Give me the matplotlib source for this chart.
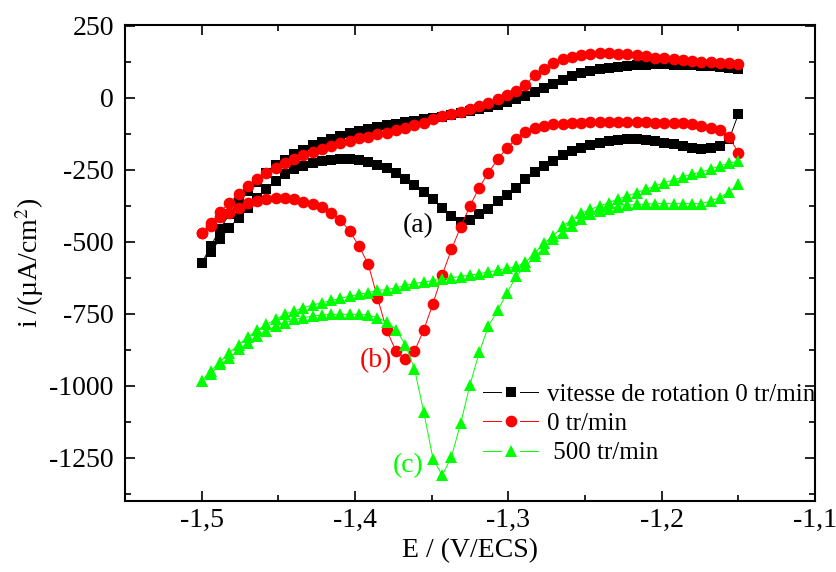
import numpy as np
import matplotlib
matplotlib.use("Agg")
import matplotlib.pyplot as plt
from matplotlib.ticker import MultipleLocator, FuncFormatter
from matplotlib.legend_handler import HandlerLine2D
from matplotlib.lines import Line2D

plt.rcParams['font.family'] = ['Liberation Serif', 'DejaVu Serif']
plt.rcParams['mathtext.fontset'] = 'stix'
plt.rcParams['axes.unicode_minus'] = False

# potential sweep grid (V/ECS), same for every branch
E = np.linspace(-1.5, -1.15, 59)

# black: vitesse de rotation 0 tr/min
black_fwd = [-575, -515, -455, -405, -362, -325, -292, -262, -235, -215,
             -197, -182, -166, -154, -142, -133, -124, -116, -110, -102,
             -96, -90, -85, -81, -75, -72, -68, -60, -54, -47,
             -41, -33, -25, -16, -6, 6, 18, 32, 48, 62,
             75, 84, 92, 98, 103, 107, 110, 112, 114, 115,
             115, 114, 113, 112, 110, 108, 106, 104, 101]
black_back = [-575, -535, -490, -451, -417, -383, -350, -318, -288, -265,
              -248, -236, -227, -221, -216, -214, -214, -218, -224, -233,
              -245, -262, -282, -303, -326, -353, -382, -410, -432, -425,
              -405, -385, -359, -339, -313, -284, -258, -237, -220, -200,
              -185, -174, -165, -156, -151, -148, -145, -145, -147, -151,
              -156, -162, -168, -174, -177, -176, -168, -145, -58]

# red: 0 tr/min
red_fwd = [-471, -436, -397, -365, -333, -307, -284, -263, -243, -228,
           -214, -200, -188, -177, -168, -159, -151, -141, -135, -128,
           -122, -112, -104, -96, -87, -75, -65, -58, -50, -40,
           -29, -19, -6, 8, 23, 45, 77, 101, 119, 133,
           142, 148, 153, 154, 154, 153, 150, 147, 145, 139,
           136, 133, 129, 127, 125, 124, 121, 119, 116]
red_back = [-471, -445, -415, -399, -382, -367, -359, -353, -350, -350,
            -353, -361, -368, -380, -399, -425, -463, -515, -578, -694,
            -807, -880, -906, -880, -807, -715, -615, -527, -448, -376,
            -312, -260, -214, -174, -142, -120, -105, -97, -93, -90,
            -88, -87, -86, -86, -85, -85, -85, -86, -86, -87,
            -87, -87, -89, -93, -99, -104, -112, -135, -193]

# green: 500 tr/min
green_fwd = [-984, -949, -917, -885, -857, -831, -808, -787, -770, -752,
             -741, -729, -720, -712, -704, -697, -689, -683, -677, -669,
             -666, -660, -652, -645, -640, -635, -630, -625, -621, -616,
             -611, -605, -599, -593, -586, -572, -540, -505, -480, -447,
             -424, -402, -388, -376, -365, -352, -342, -330, -318, -307,
             -295, -286, -275, -266, -258, -249, -237, -228, -220]
green_back = [-984, -958, -926, -905, -874, -851, -828, -810, -793, -781,
              -770, -764, -758, -755, -752, -752, -752, -752, -755, -764,
              -778, -805, -857, -941, -1090, -1253, -1311, -1246, -1130, -997,
              -884, -793, -738, -678, -620, -585, -550, -524, -492, -469,
              -446, -423, -405, -394, -385, -378, -374, -370, -370, -368,
              -368, -368, -368, -368, -368, -359, -347, -328, -301]

labels = ['vitesse de rotation 0 tr/min', '0 tr/min', ' 500 tr/min']


# Origin-like legend handle: line - marker - line with gaps
class GapHandler(HandlerLine2D):
    def create_artists(self, legend, orig_handle, xdescent, ydescent,
                       width, height, fontsize, trans):
        y = height / 2 - ydescent
        x0 = -xdescent
        seg = width * 0.33
        line = Line2D([x0, x0 + seg, np.nan, x0 + width - seg, x0 + width], [y] * 5)
        self.update_prop(line, orig_handle, legend)
        line.set_marker('None')
        line.set_transform(trans)
        mark = Line2D([x0 + width / 2], [y])
        self.update_prop(mark, orig_handle, legend)
        mark.set_linestyle('None')
        mark.set_transform(trans)
        return [line, mark]


def cycle(back, fwd):
    x = np.concatenate([E[::-1], E])
    y = np.concatenate([np.array(back)[::-1], np.array(fwd)])
    return x, y


fig = plt.figure(figsize=(8.37, 5.72), dpi=100)
ax = fig.add_axes([0.1493, 0.1241, 0.8244, 0.8322])

x, y = cycle(black_back, black_fwd)
l1, = ax.plot(x, y, color='black', lw=0.7, marker='s', ms=7.2, mew=0)
x, y = cycle(red_back, red_fwd)
l2, = ax.plot(x, y, color='#ff0000', lw=0.7, marker='o', ms=8.4, mew=0)
x, y = cycle(green_back, green_fwd)
l3, = ax.plot(x, y, color='#00ff00', lw=0.7, marker='^', ms=9.3, mew=0)

ax.text(-1.3585, -445, '(a)', color='black', fontsize=20, ha='center', va='center')
ax.text(-1.3866, -912, '(b)', color='#ff0000', fontsize=20, ha='center', va='center')
ax.text(-1.3654, -1277, '(c)', color='#00ff00', fontsize=20, ha='center', va='center')

ax.set_xlim(-1.55, -1.1)
ax.set_ylim(-1400, 252)
ax.xaxis.set_major_locator(MultipleLocator(0.1))
ax.xaxis.set_minor_locator(MultipleLocator(0.05))
ax.yaxis.set_major_locator(MultipleLocator(250))
ax.yaxis.set_minor_locator(MultipleLocator(125))
ax.xaxis.set_major_formatter(FuncFormatter(lambda v, p: ('%g' % round(v, 2)).replace('.', ',')))
ax.yaxis.set_major_formatter(FuncFormatter(lambda v, p: '%d' % v))

ax.tick_params(which='both', direction='in', top=True, right=True, width=1.2, labelsize=20)
ax.tick_params(which='major', length=7)
ax.tick_params(which='minor', length=4)
ax.tick_params(axis='x', pad=5)
ax.tick_params(axis='y', pad=8)
for s in ax.spines.values():
    s.set_linewidth(1.5)

ax.set_xlabel('E / (V/ECS)', fontsize=20, labelpad=4)
ax.set_ylabel('i /(µA/cm$^2$)', fontsize=20, labelpad=2)

ax.legend([l1, l2, l3], labels, loc='upper left', bbox_to_anchor=(0.519, 0.247),
          frameon=False, fontsize=18, borderpad=0, borderaxespad=0,
          handlelength=2.2, handletextpad=0.35, labelspacing=0.27,
          markerscale=0.75, handler_map={Line2D: GapHandler()})

fig.savefig('out.png', dpi=100)
